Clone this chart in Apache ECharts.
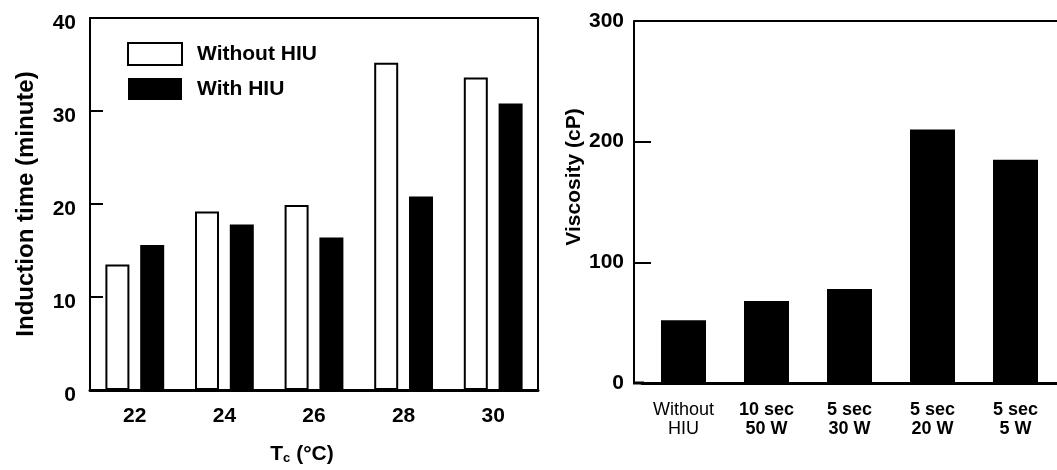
<!DOCTYPE html>
<html>
<head>
<meta charset="utf-8">
<script src="https://cdn.jsdelivr.net/npm/echarts@6/dist/echarts.min.js"></script>
<style>html,body{margin:0;padding:0;background:#fff}#c{width:1057px;height:470px}</style>
</head>
<body>
<div id="c"></div>
<script>
const tcCategories = ['22', '24', '26', '28', '30'];
const withoutHIU = [13.5, 19.2, 19.9, 35.2, 33.6];
const withHIU = [15.6, 17.8, 16.4, 20.8, 30.8];
const leftTicks = { min: 0, max: 40, interval: 10 };

const viscCategories = ['Without\nHIU', '10 sec\n50 W', '5 sec\n30 W', '5 sec\n20 W', '5 sec\n5 W'];
const viscosity = [52, 68, 78, 210, 185];
const rightTicks = { min: 0, max: 300, interval: 100 };

const FONT = 'Liberation Sans, Arial, sans-serif';
const chart = echarts.init(document.getElementById('c'), null, { renderer: 'canvas' });

chart.setOption({
  backgroundColor: '#fff',
  animation: false,
  textStyle: { fontFamily: FONT, color: '#000' },
  legend: {
    orient: 'vertical',
    left: 122, top: 37,
    itemWidth: 54, itemHeight: 22, itemGap: 12,
    icon: 'rect',
    data: ['Without HIU', 'With HIU'],
    textStyle: { fontSize: 21, fontWeight: 'bold', color: '#000', fontFamily: FONT, padding: [0, 0, 0, 10] }
  },
  grid: [
    { left: 90, top: 18, width: 448, height: 376, show: true, borderColor: '#000', borderWidth: 2, backgroundColor: 'transparent' },
    { left: 642, top: 21, width: 425, height: 362 }
  ],
  xAxis: [
    {
      gridIndex: 0, type: 'category', data: tcCategories,
      axisLine: { lineStyle: { color: '#000', width: 3 } },
      axisTick: { show: false },
      axisLabel: { fontSize: 21, fontWeight: 'bold', color: '#000', margin: 16, fontFamily: FONT },
      name: '{t|T}{s|c}{t| (°C)}',
      nameLocation: 'middle', nameGap: 51,
      nameTextStyle: {
        padding: [0, 24, 0, 0],
        rich: {
          t: { fontSize: 21, fontWeight: 'bold', color: '#000', fontFamily: FONT, lineHeight: 24, verticalAlign: 'bottom' },
          s: { fontSize: 13, fontWeight: 'bold', color: '#000', fontFamily: FONT, lineHeight: 14, verticalAlign: 'bottom' }
        }
      }
    },
    {
      gridIndex: 1, type: 'category',
      data: viscCategories.map((v, i) => i === 0 ? { value: v, textStyle: { fontWeight: 'normal' } } : v),
      axisLine: { lineStyle: { color: '#000', width: 3 } },
      axisTick: { show: false },
      axisLabel: { interval: 0, hideOverlap: false, fontSize: 18, fontWeight: 'bold', color: '#000', margin: 18, lineHeight: 19, fontFamily: FONT }
    }
  ],
  yAxis: [
    {
      gridIndex: 0, type: 'value', min: leftTicks.min, max: leftTicks.max, interval: leftTicks.interval,
      axisLine: { show: true, lineStyle: { color: '#000', width: 2 } },
      axisTick: { show: true, inside: true, length: 13, lineStyle: { color: '#000', width: 2 } },
      splitLine: { show: false },
      axisLabel: { fontSize: 21, fontWeight: 'bold', color: '#000', margin: 14, fontFamily: FONT, verticalAlign: 'top', lineHeight: 10 },
      name: 'Induction time (minute)', nameLocation: 'middle', nameGap: 52,
      nameTextStyle: { fontSize: 24, fontWeight: 'bold', color: '#000', fontFamily: FONT }
    },
    {
      gridIndex: 1, type: 'value', min: rightTicks.min, max: rightTicks.max, interval: rightTicks.interval,
      offset: 8,
      axisLine: { show: true, lineStyle: { color: '#000', width: 2 } },
      axisTick: { show: true, inside: true, length: 17, lineStyle: { color: '#000', width: 2 } },
      splitLine: { show: false },
      axisLabel: { fontSize: 21, fontWeight: 'bold', color: '#000', margin: 10, fontFamily: FONT },
      name: 'Viscosity (cP)', nameLocation: 'middle', nameGap: 37,
      nameTextStyle: { fontSize: 21, fontWeight: 'bold', color: '#000', fontFamily: FONT, padding: [0, 0, 0, 50] }
    }
  ],
  series: [
    {
      name: 'Without HIU', type: 'bar', xAxisIndex: 0, yAxisIndex: 0, data: withoutHIU,
      barWidth: 24, barGap: '45%',
      itemStyle: { color: '#fff', borderColor: '#000', borderWidth: 2 }
    },
    {
      name: 'With HIU', type: 'bar', xAxisIndex: 0, yAxisIndex: 0, data: withHIU,
      barWidth: 24, barGap: '45%',
      itemStyle: { color: '#000', borderColor: '#000', borderWidth: 0 }
    },
    {
      name: 'Viscosity', type: 'bar', xAxisIndex: 1, yAxisIndex: 1, data: viscosity,
      barWidth: 45,
      itemStyle: { color: '#000' }
    }
  ],
  graphic: [
    { type: 'line', shape: { x1: 634, y1: 21, x2: 1057, y2: 21 }, style: { stroke: '#000', lineWidth: 2 } },
    { type: 'line', shape: { x1: 633, y1: 383, x2: 644, y2: 383 }, style: { stroke: '#000', lineWidth: 3 } }
  ]
});
</script>
</body>
</html>
